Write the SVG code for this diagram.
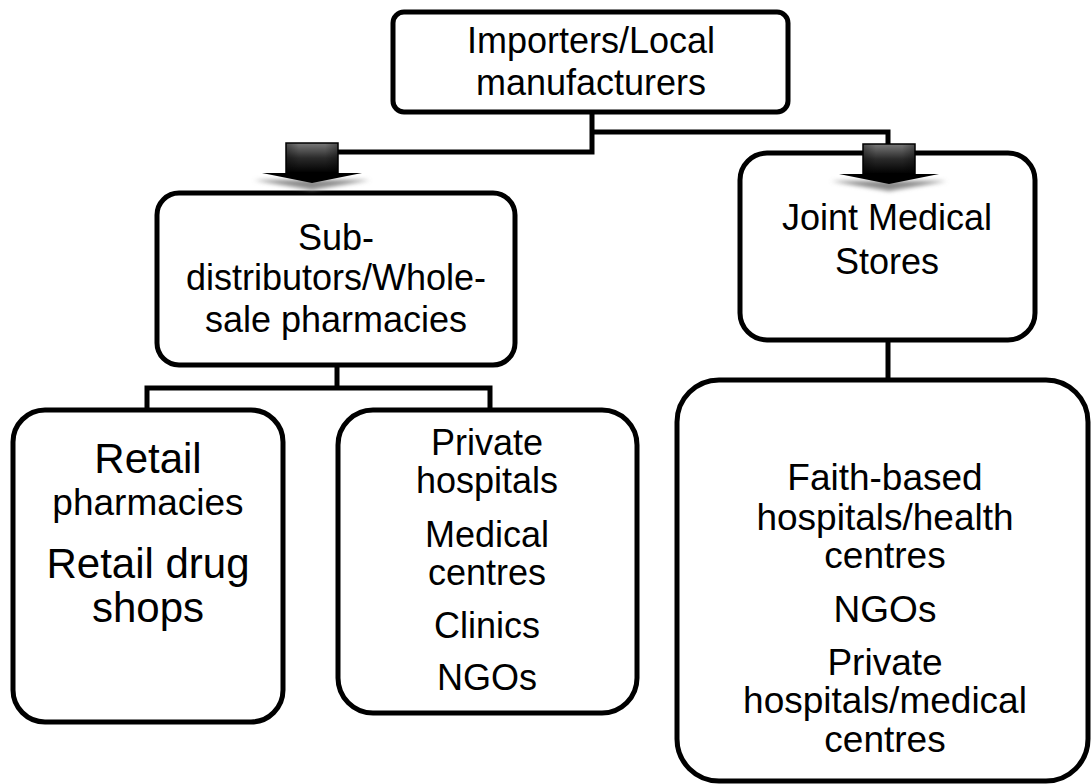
<svg xmlns="http://www.w3.org/2000/svg" width="1091" height="784" viewBox="0 0 1091 784">
  <style>
    .box { fill: #ffffff; stroke: #000000; stroke-width: 5; }
    .line { fill: none; stroke: #000000; stroke-width: 5; stroke-linejoin: miter; }
    text { font-family: "Liberation Sans", Arial, sans-serif; fill: #000000; text-anchor: middle; }
    .t36 { font-size: 36px; }
    .t42 { font-size: 42px; }
    .t37 { font-size: 37px; }
  </style>
  <defs>
    <linearGradient id="arrowBody" x1="0" y1="0" x2="0" y2="1">
      <stop offset="0" stop-color="#7a7a7a"/>
      <stop offset="0.5" stop-color="#2a2a2a"/>
      <stop offset="1" stop-color="#000000"/>
    </linearGradient>
    <linearGradient id="arrowSide" x1="0" y1="0" x2="1" y2="0">
      <stop offset="0" stop-color="#000000" stop-opacity="0.35"/>
      <stop offset="0.25" stop-color="#000000" stop-opacity="0"/>
      <stop offset="0.75" stop-color="#000000" stop-opacity="0"/>
      <stop offset="1" stop-color="#000000" stop-opacity="0.35"/>
    </linearGradient>
    <filter id="blur" x="-20%" y="-100%" width="140%" height="300%">
      <feGaussianBlur stdDeviation="2"/>
    </filter>
    <g id="arrow">
      <polygon points="-58,37 58,37 0,47" fill="#8a8a8a" filter="url(#blur)"/>
      <rect x="-26" y="0" width="52" height="30" fill="url(#arrowBody)" stroke="#000" stroke-width="1.5"/>
      <rect x="-26" y="0" width="52" height="30" fill="url(#arrowSide)"/>
      <polygon points="-50,30 50,30 0,40" fill="#000000"/>
    </g>
  </defs>

  <g id="connectors">
    <path class="line" d="M592,112 V152 H312"/>
    <path class="line" d="M592,132 H888 V150"/>
    <path class="line" d="M337,365 V388"/>
    <path class="line" d="M147,410 V388 H490 V410"/>
    <path class="line" d="M888,340 V380"/>
  </g>

  <g id="node-importers">
    <rect class="box" x="393" y="12" width="395" height="100" rx="11" ry="11"/>
    <text class="t36" x="591" y="53">Importers/Local</text>
    <text class="t36" x="591" y="95">manufacturers</text>
  </g>

  <g id="node-subdistributors">
    <rect class="box" x="157" y="193" width="358" height="172" rx="22" ry="22"/>
    <text class="t36" x="336" y="250">Sub-</text>
    <text class="t36" x="336" y="290">distributors/Whole-</text>
    <text class="t36" x="336" y="332">sale pharmacies</text>
  </g>

  <g id="node-jms">
    <rect class="box" x="740" y="153" width="295" height="187" rx="27" ry="27"/>
    <text class="t36" x="887" y="230">Joint Medical</text>
    <text class="t36" x="887" y="274">Stores</text>
  </g>

  <g id="node-retail">
    <rect class="box" x="13" y="410" width="270" height="312" rx="32" ry="32"/>
    <text class="t42" x="148" y="473">Retail</text>
    <text class="t37" x="148" y="515">pharmacies</text>
    <text class="t42" x="148" y="578">Retail drug</text>
    <text class="t42" x="148" y="622">shops</text>
  </g>

  <g id="node-private">
    <rect class="box" x="338" y="410" width="299" height="303" rx="35" ry="35"/>
    <text class="t36" x="487" y="455">Private</text>
    <text class="t36" x="487" y="493">hospitals</text>
    <text class="t36" x="487" y="547">Medical</text>
    <text class="t36" x="487" y="585">centres</text>
    <text class="t36" x="487" y="638">Clinics</text>
    <text class="t36" x="487" y="690">NGOs</text>
  </g>

  <g id="node-faith">
    <rect class="box" x="677" y="380" width="411" height="401" rx="42" ry="42"/>
    <text class="t37" x="885" y="490">Faith-based</text>
    <text class="t37" x="885" y="530">hospitals/health</text>
    <text class="t37" x="885" y="568">centres</text>
    <text class="t37" x="885" y="622">NGOs</text>
    <text class="t37" x="885" y="675">Private</text>
    <text class="t37" x="885" y="713">hospitals/medical</text>
    <text class="t37" x="885" y="752">centres</text>
  </g>

  <g id="arrows">
    <use href="#arrow" x="312" y="143"/>
    <use href="#arrow" x="889" y="144"/>
  </g>
</svg>
